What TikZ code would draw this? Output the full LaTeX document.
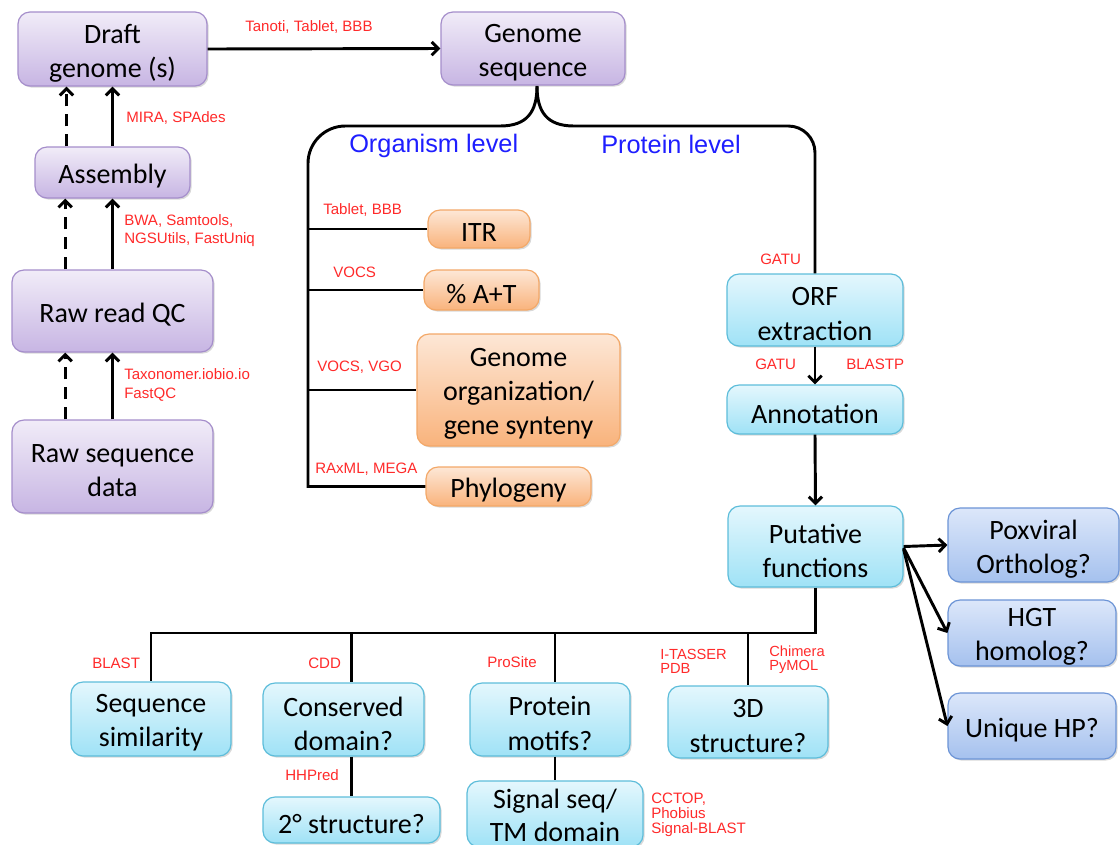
\documentclass[tikz,border=0pt]{standalone}
\usepackage{fontspec}
\setmainfont{Carlito}
\newfontfamily\arialf{Liberation Sans}
\usetikzlibrary{arrows.meta,shadows}
\definecolor{purpT}{HTML}{F1ECF8}
\definecolor{purpB}{HTML}{C7B5E3}
\definecolor{purpD}{HTML}{A58ECB}
\definecolor{orT}{HTML}{FDE7D6}
\definecolor{orB}{HTML}{F9B37C}
\definecolor{orD}{HTML}{F3A868}
\definecolor{cyT}{HTML}{E4F7FD}
\definecolor{cyB}{HTML}{9FE2F6}
\definecolor{cyD}{HTML}{5DBDDA}
\definecolor{blT}{HTML}{DCE7FA}
\definecolor{blB}{HTML}{A5C1EE}
\definecolor{blD}{HTML}{6C94D6}
\definecolor{lblred}{HTML}{FF2A2A}
\definecolor{lvlblue}{HTML}{1E1EFF}
\tikzset{
  box/.style={rounded corners=9pt, line width=0.9pt, inner sep=0pt,
    drop shadow={shadow xshift=1.2pt, shadow yshift=-1.2pt, opacity=0.25, fill=black!60}},
  boxtext/.style={align=center, inner sep=0pt, yshift=-3pt,
    font=\fontsize{21}{25.6}\selectfont},
  purp/.style={box, draw=purpD, top color=purpT, bottom color=purpB},
  oran/.style={box, draw=orD, top color=orT, bottom color=orB},
  cyan/.style={box, draw=cyD, top color=cyT, bottom color=cyB},
  blu/.style={box, draw=blD, top color=blT, bottom color=blB},
  conn/.style={line width=2.2pt, black},
  arr/.style={conn, -{Straight Barb[length=5pt,width=10pt]}},
  darr/.style={arr, dash pattern=on 9pt off 6pt},
  lbl/.style={text=lblred, font=\arialf\fontsize{11.3}{13.5}\selectfont, anchor=west, inner sep=0pt, align=left},
  lvl/.style={text=lvlblue, font=\arialf\fontsize{19}{22}\selectfont, anchor=west, inner sep=0pt}
}
\newcommand\mkbox[6]{\node[#1, minimum width=#4*0.75pt, minimum height=#5*0.75pt,
  label={[boxtext]center:{#6}}] (#2) at (#3) {};}
\begin{document}
\begin{tikzpicture}[x=0.75pt,y=-0.75pt]
\useasboundingbox (0,0) rectangle (1120,844);
% purple column
\mkbox{purp}{draft}{112.5,49}{189}{74}{Draft\\genome (s)}
\mkbox{purp}{gseq}{533,48.5}{184}{73}{Genome\\sequence}
\mkbox{purp}{asm}{112.5,172.5}{155}{51}{Assembly}
\mkbox{purp}{rqc}{112.5,311}{201}{82}{Raw read QC}
\mkbox{purp}{rsd}{112.5,466.5}{201}{93}{Raw sequence\\data}
% orange
\mkbox{oran}{itr}{479,229}{102}{38}{ITR}
\mkbox{oran}{at}{481.5,290}{115}{40}{\% A+T}
\mkbox{oran}{gorg}{518.5,390}{203}{112}{Genome\\organization/\\gene synteny}
\mkbox{oran}{phy}{508.5,486.5}{165}{39}{Phylogeny}
% cyan
\mkbox{cyan}{orf}{815,310}{176}{72}{ORF\\extraction}
\mkbox{cyan}{ann}{815,409.5}{176}{49}{Annotation}
\mkbox{cyan}{put}{815.5,546.5}{175}{81}{Putative\\functions}
\mkbox{cyan}{seqsim}{151,719}{160}{74}{Sequence\\similarity}
\mkbox{cyan}{cons}{343.5,719.5}{161}{73}{Conserved\\domain?}
\mkbox{cyan}{sec}{351.5,820}{177}{46}{2° structure?}
\mkbox{cyan}{mot}{550,719.5}{160}{73}{Protein\\motifs?}
\node[cyan, minimum width=132pt, minimum height=49.5pt,
  label={[boxtext, yshift=2.2pt, font=\fontsize{21}{24.5}\selectfont]center:{Signal seq/\\TM domain}}] (sig) at (555,814) {};
\mkbox{cyan}{td}{748,722}{160}{72}{3D\\structure?}
% blue
\mkbox{blu}{pox}{1033.5,545}{171}{74}{Poxviral\\Ortholog?}
\mkbox{blu}{hgt}{1032,633}{168}{66}{HGT\\homolog?}
\mkbox{blu}{uhp}{1032,726}{168}{66}{Unique HP?}

% left column arrows
\draw[arr] (draft.east) -- (gseq.west);
\draw[arr] (asm.north) -- (draft.south);
\draw[darr] ([xshift=-34.5pt]asm.north) -- ([xshift=-34.5pt]draft.south);
\draw[arr] (rqc.north) -- (asm.south);
\draw[darr] ([xshift=-35.5pt]rqc.north) -- ([xshift=-35.5pt]asm.south);
\draw[arr] (rsd.north) -- (rqc.south);
\draw[darr] ([xshift=-35.5pt]rsd.north) -- ([xshift=-35.5pt]rqc.south);

% brace from genome sequence
\coordinate (vx) at (308,0);
\coordinate (tip) at (537,86);
\draw[conn] (tip) .. controls (537,112) and (527,126) .. (500,126)
  [rounded corners=28pt] -- (308,126) -- (308,300) [sharp corners] -- (vx |- phy.west) -- (phy.west);
\draw[conn] (tip) .. controls (537,112) and (547,126) .. (574,126)
  [rounded corners=20pt] -- (orf.north |- 0,126) -- (orf.north);
\draw[conn] (vx |- itr.west) -- (itr.west);
\draw[conn] (vx |- at.west) -- (at.west);
\draw[conn] (vx |- gorg.west) -- (gorg.west);

% protein branch
\draw[arr] (orf.south) -- (ann.north);
\draw[arr] (ann.south) -- (put.north);
\draw[arr] (put.east) -- (pox.west);
\draw[arr] ([yshift=-1pt]put.east) -- (hgt.west);
\draw[arr] ([yshift=-2pt]put.east) -- (uhp.west);

% bottom tree
\coordinate (bus) at (0,633);
\draw[conn] (put.south) -- (put.south |- bus) -- (seqsim.north |- bus) -- (seqsim.north);
\draw[conn] (sec.north |- bus) -- (sec.north |- cons.north);
\draw[conn] (sec.north |- cons.south) -- (sec.north);
\draw[conn] (sig.north |- bus) -- (sig.north |- mot.north);
\draw[conn] (sig.north |- mot.south) -- (sig.north);
\draw[conn] (td.north |- bus) -- (td.north);

% level labels
\node[lvl] (orglvl) at (349,146) {Organism level};
\node[lvl] (prolvl) at (601,144) {Protein level};

% tool labels
\node[lbl] (l1) at (245,27) {Tanoti, Tablet, BBB};
\node[lbl] (l2) at (126,118) {MIRA, SPAdes};
\node[lbl] (l3) at (124,231) {BWA, Samtools,\\NGSUtils, FastUniq};
\node[lbl, font=\arialf\fontsize{11.3}{14.2}\selectfont] (l4) at (124,384.5) {Taxonomer.iobio.io\\FastQC};
\node[lbl] (l5) at (323,210) {Tablet, BBB};
\node[lbl] (l6) at (333,272) {VOCS};
\node[lbl] (l7) at (317,367) {VOCS, VGO};
\node[lbl] (l8) at (315,469) {RAxML, MEGA};
\node[lbl] (l9) at (760,259) {GATU};
\node[lbl] (l10) at (755,364) {GATU};
\node[lbl] (l11) at (846,364) {BLASTP};
\node[lbl] (l12) at (92,663) {BLAST};
\node[lbl] (l13) at (308,663) {CDD};
\node[lbl] (l14) at (285,775) {HHPred};
\node[lbl] (l15) at (487,662) {ProSite};
\node[lbl, font=\arialf\fontsize{11}{10.6}\selectfont] (l16) at (660,661) {I-TASSER\\PDB};
\node[lbl, font=\arialf\fontsize{11}{10.6}\selectfont] (l17) at (769,660) {Chimera\\PyMOL};
\node[lbl, font=\arialf\fontsize{11.3}{11.2}\selectfont] (l18) at (651,815) {CCTOP,\\Phobius\\Signal-BLAST};
\end{tikzpicture}
\end{document}
